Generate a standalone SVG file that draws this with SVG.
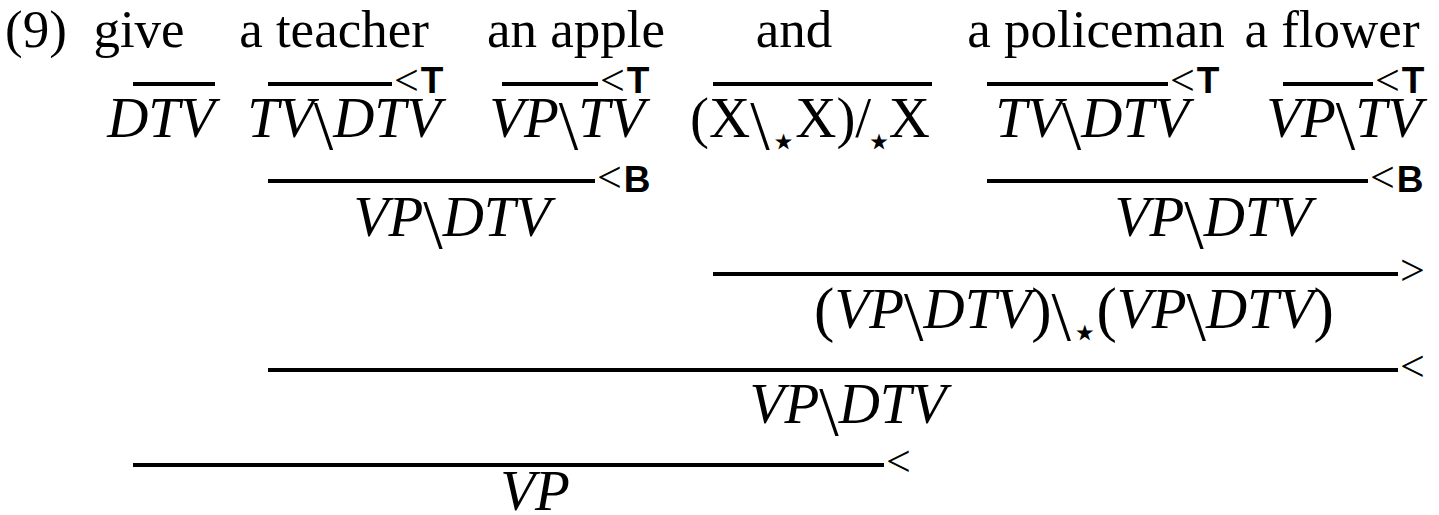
<svg xmlns="http://www.w3.org/2000/svg" width="1439" height="515" viewBox="0 0 1439 515">
<style>
.w{font-family:"Liberation Serif","Times New Roman",serif;font-size:53px;fill:#000}
.m{font-family:"Liberation Serif","Times New Roman",serif;font-size:57px;font-style:italic;fill:#000}
.u{font-style:normal}
.bs{font-style:normal;font-size:70px}
.pa{font-style:normal;font-size:61px}
.st{font-family:"DejaVu Sans",sans-serif;font-style:normal;font-size:44px}
.r{font-family:"Liberation Serif","Times New Roman",serif;font-size:44px;fill:#000}
.lb{font-family:"Liberation Sans",Arial,sans-serif;font-weight:bold;font-size:37px}
.ln{stroke:#000;stroke-width:4;fill:none}
</style>
<rect width="1439" height="515" fill="#fff"/>

<g id="words">
<text class="w" x="5" y="47">(9)</text>
<text class="w" x="139" y="47" text-anchor="middle">give</text>
<text class="w" x="334" y="47" text-anchor="middle">a teacher</text>
<text class="w" x="576" y="47" text-anchor="middle">an apple</text>
<text class="w" x="794" y="47" text-anchor="middle">and</text>
<text class="w" x="1096" y="47" text-anchor="middle">a policeman</text>
<text class="w" x="1332" y="47" text-anchor="middle">a flower</text>
</g>

<g id="connectors">
<line class="ln" x1="133" y1="84" x2="215" y2="84"/>
<line class="ln" x1="268" y1="84" x2="392" y2="84"/>
<line class="ln" x1="502" y1="84" x2="598" y2="84"/>
<line class="ln" x1="713" y1="84" x2="932" y2="84"/>
<line class="ln" x1="987" y1="84" x2="1168" y2="84"/>
<line class="ln" x1="1283" y1="84" x2="1373" y2="84"/>
<line class="ln" x1="268" y1="181" x2="595" y2="181"/>
<line class="ln" x1="987" y1="181" x2="1368" y2="181"/>
<line class="ln" x1="713" y1="274" x2="1398" y2="274"/>
<line class="ln" x1="268" y1="370" x2="1398" y2="370"/>
<line class="ln" x1="133" y1="465" x2="884" y2="465"/>
</g>

<g id="rule-labels">
<text class="r" x="394" y="95">&lt;<tspan class="lb" dx="2" dy="-2">T</tspan></text>
<text class="r" x="600" y="95">&lt;<tspan class="lb" dx="2" dy="-2">T</tspan></text>
<text class="r" x="1170" y="95">&lt;<tspan class="lb" dx="2" dy="-2">T</tspan></text>
<text class="r" x="1375" y="95">&lt;<tspan class="lb" dx="2" dy="-2">T</tspan></text>
<text class="r" x="597" y="192">&lt;<tspan class="lb" dx="2" dy="0">B</tspan></text>
<text class="r" x="1370" y="192">&lt;<tspan class="lb" dx="2" dy="0">B</tspan></text>
<text class="r" x="1400" y="285">&gt;</text>
<text class="r" x="1400" y="381">&lt;</text>
<text class="r" x="886" y="476">&lt;</text>
</g>

<g id="cat-give"><text class="m" x="161" y="137" text-anchor="middle">DTV</text></g>
<g id="cat-teacher"><text class="m" x="344" y="137" text-anchor="middle">TV<tspan class="bs" dy="12">\</tspan><tspan dy="-12">DTV</tspan></text></g>
<g id="cat-apple"><text class="m" x="567" y="137" text-anchor="middle">VP<tspan class="bs" dy="12">\</tspan><tspan dy="-12">TV</tspan></text></g>
<g id="cat-and"><text class="m u" x="810" y="137" text-anchor="middle">(X<tspan class="bs" dy="12">\</tspan><tspan class="st" dy="7">⋆</tspan><tspan dx="-2" dy="-19">X)/</tspan><tspan class="st" dx="-6" dy="19">⋆</tspan><tspan dx="-4" dy="-19">X</tspan></text></g>
<g id="cat-policeman"><text class="m" x="1092" y="137" text-anchor="middle">TV<tspan class="bs" dy="12">\</tspan><tspan dy="-12">DTV</tspan></text></g>
<g id="cat-flower"><text class="m" x="1344" y="137" text-anchor="middle">VP<tspan class="bs" dy="12">\</tspan><tspan dy="-12">TV</tspan></text></g>

<g id="comp-left"><text class="m" x="452" y="236" text-anchor="middle">VP<tspan class="bs" dy="12">\</tspan><tspan dy="-12">DTV</tspan></text></g>
<g id="comp-right"><text class="m" x="1213" y="236" text-anchor="middle">VP<tspan class="bs" dy="12">\</tspan><tspan dy="-12">DTV</tspan></text></g>
<g id="conj-applied"><text class="m" x="1074" y="328" text-anchor="middle"><tspan class="pa" dy="2">(</tspan><tspan dy="-2">VP</tspan><tspan class="bs" dy="12">\</tspan><tspan dy="-12">DTV</tspan><tspan class="pa" dy="2">)</tspan><tspan class="bs" dy="10">\</tspan><tspan class="st" dy="7">⋆</tspan><tspan class="pa" dx="-2" dy="-17">(</tspan><tspan dy="-2">VP</tspan><tspan class="bs" dy="12">\</tspan><tspan dy="-12">DTV</tspan><tspan class="pa" dy="2">)</tspan></text></g>
<g id="coordinated"><text class="m" x="848" y="423" text-anchor="middle">VP<tspan class="bs" dy="12">\</tspan><tspan dy="-12">DTV</tspan></text></g>
<g id="result"><text class="m" x="535" y="510" text-anchor="middle">VP</text></g>
</svg>
